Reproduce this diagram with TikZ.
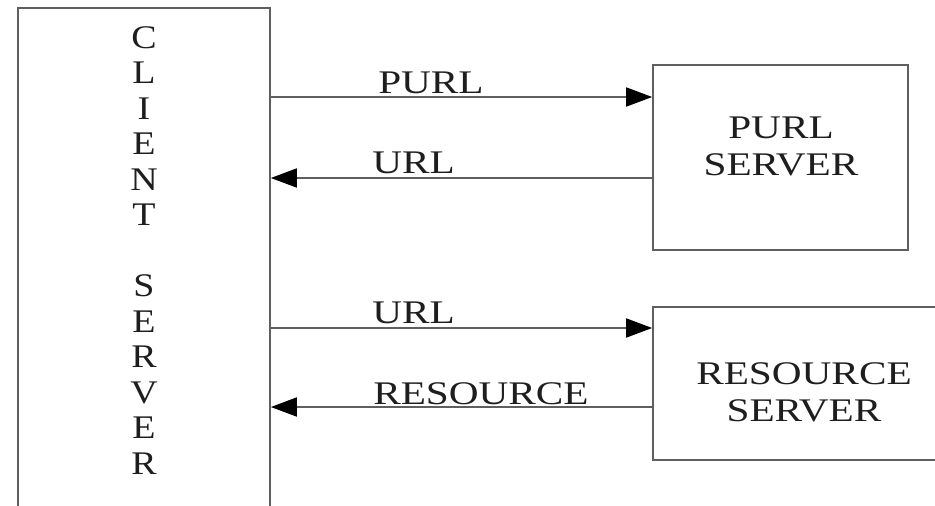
\documentclass[tikz,border=0pt]{standalone}
\usepackage{fontspec}
\setmainfont{Liberation Serif}
\usepackage{tikz}
\usetikzlibrary{arrows.meta,positioning}
\usepackage{xcolor}
\definecolor{boxline}{RGB}{95,95,95}
\definecolor{inktext}{RGB}{30,30,30}
\newcommand{\lblfont}{\fontsize{33}{37}\selectfont}

\begin{document}
\begin{tikzpicture}[x=1pt,y=-1pt,
  box/.style={draw=boxline,line width=1.7pt,inner sep=0pt},
  lbl/.style={font=\lblfont,text=inktext,inner sep=0pt,xscale=1.25,transform shape},
  arr/.style={draw=boxline,line width=1.7pt,-{Triangle[length=26pt,width=19pt,black]}}]
\useasboundingbox (0,0) rectangle (935,506);
\clip (0,0) rectangle (935,506);
% boxes
\node[box,minimum width=252pt,minimum height=530pt] (client) at (144,273) {};
\node[box,minimum width=255pt,minimum height=185pt] (purl) at (780.5,157.5) {};
\node[box,minimum width=300pt,minimum height=153pt] (resource) at (803,383.5) {};
% box texts
\node[lbl,xscale=0.92,align=center,font=\fontsize{33}{35.5}\selectfont,anchor=north] (clienttext) at (144,26)
  {C\\L\\I\\E\\N\\T\\ \\S\\E\\R\\V\\E\\R};
\node[lbl,align=center] (purltext) at (781,146) {PURL\\SERVER};
\node[lbl,align=center] (restext) at (804,392) {RESOURCE\\SERVER};
% messages
\draw[arr] (client.east |- 0,97) -- (purl.west |- 0,97);
\draw[arr] (purl.west |- 0,178) -- (client.east |- 0,178);
\draw[arr] (client.east |- 0,328) -- (resource.west |- 0,328);
\draw[arr] (resource.west |- 0,407) -- (client.east |- 0,407);
\node[lbl,anchor=base west] (m1) at (378,93) {PURL};
\node[lbl,anchor=base west] (m2) at (372,173) {URL};
\node[lbl,anchor=base west] (m3) at (372,323) {URL};
\node[lbl,anchor=base west] (m4) at (373,404) {RESOURCE};
\end{tikzpicture}
\end{document}
